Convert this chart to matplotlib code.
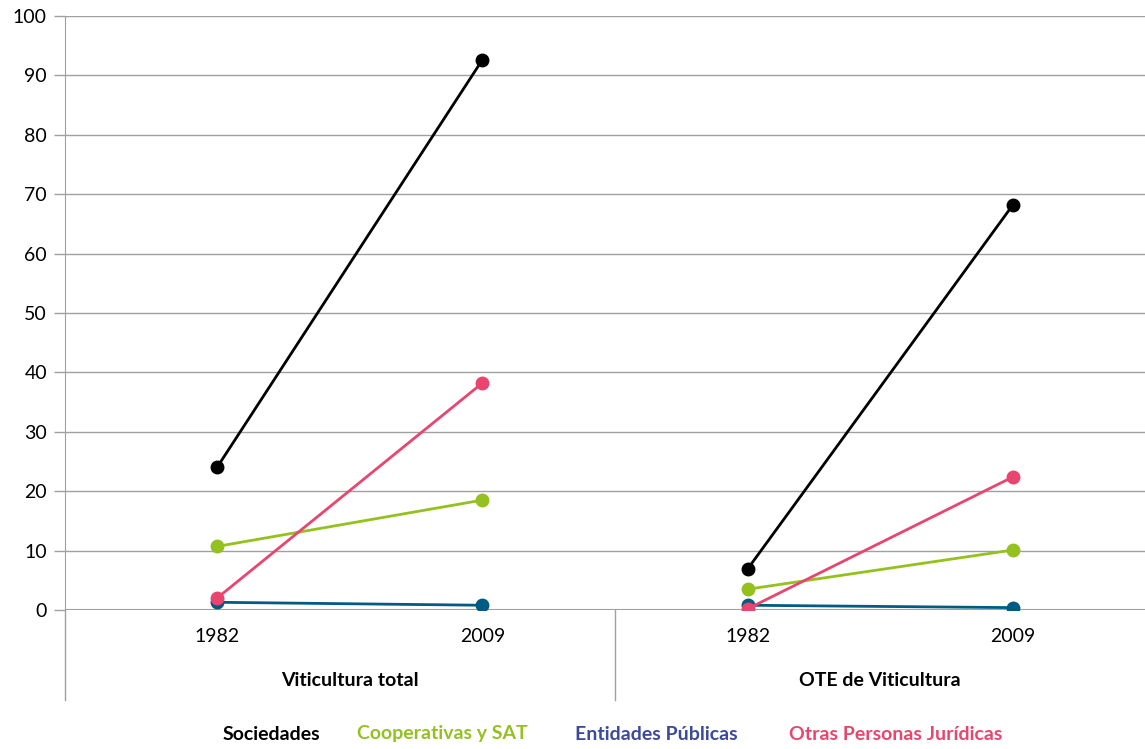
import matplotlib
matplotlib.use("Agg")
import matplotlib.pyplot as plt
from matplotlib.lines import Line2D

plt.rcParams['font.family'] = ['Lato', 'DejaVu Sans']

years = ["1982", "2009", "1982", "2009"]
groups = ["Viticultura total", "OTE de Viticultura"]
series_names = ["Sociedades", "Cooperativas y SAT", "Entidades Públicas", "Otras Personas Jurídicas"]
sociedades = [24.0, 92.6, 6.9, 68.2]
cooperativas = [10.7, 18.5, 3.5, 10.1]
entidades = [1.3, 0.8, 0.8, 0.4]
otras = [2.0, 38.2, 0.2, 22.4]

line_colors = ["#000000", "#95c11f", "#005b82", "#e8466e"]
legend_colors = ["#000000", "#95c11f", "#3b4a9a", "#e8466e"]
data = [sociedades, cooperativas, entidades, otras]

W, H = 1145, 749
fig = plt.figure(figsize=(W / 100, H / 100), dpi=100)
ax = fig.add_axes([65 / W, 1 - 610 / H, 1080 / W, 594 / H])

xs = [0, 1, 2, 3]
for vals, c in zip(data, line_colors):
    ax.plot(xs[:2], vals[:2], color=c, lw=2.0, marker='o', ms=9, zorder=3)
    ax.plot(xs[2:], vals[2:], color=c, lw=2.0, marker='o', ms=9, zorder=3)

ax.set_xlim(-0.573, 3.498)
ax.set_ylim(0, 100)
ax.set_yticks(range(0, 101, 10))
ax.set_yticklabels([str(v) for v in range(0, 101, 10)], fontsize=14)
ax.tick_params(axis='y', length=8, color='#a0a0a0', width=1, pad=5)
ax.set_xticks([])
for s in ['top', 'right', 'bottom']:
    ax.spines[s].set_visible(False)
ax.spines['left'].set_color('#a0a0a0')
ax.grid(axis='y', color='#a0a0a0', lw=1)
ax.set_axisbelow(True)
ax.axhline(0, color='#a0a0a0', lw=1.5, zorder=1)

# vertical separators below the axis
trans = ax.get_xaxis_transform()
bot = -(700 - 610) / 594
for xv in [-0.573, 1.5]:
    ax.add_line(Line2D([xv, xv], [0, bot], transform=trans, color='#a0a0a0', lw=1, clip_on=False))

# category labels
for x, lab in zip(xs, years):
    ax.text(x, -(637 - 610) / 594, lab, transform=trans, ha='center', va='center', fontsize=14)
for x, lab in zip([0.5, 2.5], groups):
    ax.text(x, -(680 - 610) / 594, lab, transform=trans, ha='center', va='center', fontsize=14, fontweight='bold')

# legend as coloured text
centers = [271, 442, 656, 896]
for cx, name, c in zip(centers, series_names, legend_colors):
    fig.text(cx / W, 1 - 734 / H, name, color=c, ha='center', va='center', fontsize=14, fontweight='bold')

fig.savefig("out.png", dpi=100)
